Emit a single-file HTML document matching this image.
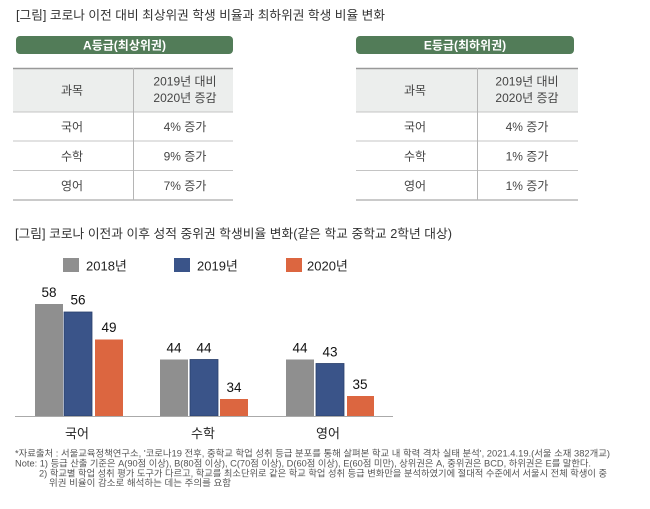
<!DOCTYPE html>
<html><head><meta charset="utf-8"><style>
html,body{margin:0;padding:0;background:#fff;}
svg{display:block;}
text{font-family:"Liberation Sans","Noto Sans CJK KR",sans-serif;}
</style></head><body>
<svg width="650" height="509" viewBox="0 0 650 509" xmlns="http://www.w3.org/2000/svg">
<rect width="650" height="509" fill="#fff"/>
<text x="16" y="19.5" font-size="12.5" fill="#333" textLength="369" lengthAdjust="spacingAndGlyphs">[그림] 코로나 이전 대비 최상위권 학생 비율과 최하위권 학생 비율 변화</text>

<!-- Left table -->
<rect x="16" y="36" width="217" height="18" rx="4" fill="#527c58"/>
<text x="124.5" y="49.5" font-size="12" font-weight="bold" fill="#fff" text-anchor="middle">A등급(최상위권)</text>
<rect x="13" y="68" width="220" height="44" fill="#eceeed"/>
<line x1="13" y1="68.5" x2="233" y2="68.5" stroke="#999" stroke-width="1.5"/>
<line x1="13" y1="112" x2="233" y2="112" stroke="#c4c4c4" stroke-width="1"/>
<line x1="13" y1="141" x2="233" y2="141" stroke="#c4c4c4" stroke-width="1"/>
<line x1="13" y1="170.5" x2="233" y2="170.5" stroke="#c4c4c4" stroke-width="1"/>
<line x1="13" y1="200" x2="233" y2="200" stroke="#aaa" stroke-width="1.2"/>
<line x1="133.5" y1="68" x2="133.5" y2="200" stroke="#b5b5b5" stroke-width="1"/>
<g font-size="12" fill="#444" text-anchor="middle">
<text x="72" y="94.5">과목</text>
<text x="185" y="85.5">2019년 대비</text>
<text x="185" y="102">2020년 증감</text>
<text x="72" y="131">국어</text><text x="185" y="131">4% 증가</text>
<text x="72" y="160.5">수학</text><text x="185" y="160.5">9% 증가</text>
<text x="72" y="190">영어</text><text x="185" y="190">7% 증가</text>
</g>

<!-- Right table -->
<rect x="356" y="36" width="218" height="18" rx="4" fill="#527c58"/>
<text x="465" y="49.5" font-size="12" font-weight="bold" fill="#fff" text-anchor="middle">E등급(최하위권)</text>
<rect x="356" y="68" width="222" height="44" fill="#eceeed"/>
<line x1="356" y1="68.5" x2="578" y2="68.5" stroke="#999" stroke-width="1.5"/>
<line x1="356" y1="112" x2="578" y2="112" stroke="#c4c4c4" stroke-width="1"/>
<line x1="356" y1="141" x2="578" y2="141" stroke="#c4c4c4" stroke-width="1"/>
<line x1="356" y1="170.5" x2="578" y2="170.5" stroke="#c4c4c4" stroke-width="1"/>
<line x1="356" y1="200" x2="578" y2="200" stroke="#aaa" stroke-width="1.2"/>
<line x1="477.5" y1="68" x2="477.5" y2="200" stroke="#b5b5b5" stroke-width="1"/>
<g font-size="12" fill="#444" text-anchor="middle">
<text x="415" y="94.5">과목</text>
<text x="527" y="85.5">2019년 대비</text>
<text x="527" y="102">2020년 증감</text>
<text x="415" y="131">국어</text><text x="527" y="131">4% 증가</text>
<text x="415" y="160.5">수학</text><text x="527" y="160.5">1% 증가</text>
<text x="415" y="190">영어</text><text x="527" y="190">1% 증가</text>
</g>

<!-- Chart title -->
<text x="15" y="238" font-size="12.5" fill="#333" textLength="437" lengthAdjust="spacingAndGlyphs">[그림] 코로나 이전과 이후 성적 중위권 학생비율 변화(같은 학교 중학교 2학년 대상)</text>

<!-- Legend -->
<rect x="63" y="258" width="16" height="14" fill="#8f8f8f"/>
<text x="86" y="267" font-size="13" fill="#222" dominant-baseline="middle">2018년</text>
<rect x="174" y="258" width="16" height="14" fill="#3a5489"/>
<text x="197" y="267" font-size="13" fill="#222" dominant-baseline="middle">2019년</text>
<rect x="286" y="258" width="16" height="14" fill="#dc6640"/>
<text x="307" y="267" font-size="13" fill="#222" dominant-baseline="middle">2020년</text>

<!-- Bars -->
<g>
<rect x="35" y="304" width="28" height="112" fill="#8f8f8f"/>
<rect x="64" y="312" width="28" height="104" fill="#3a5489" stroke="#2a3f6c" stroke-width="0.8"/>
<rect x="95" y="339.5" width="28" height="76.5" fill="#dc6640"/>

<rect x="160" y="359.5" width="28" height="56.5" fill="#8f8f8f"/>
<rect x="190" y="359.5" width="28" height="56.5" fill="#3a5489" stroke="#2a3f6c" stroke-width="0.8"/>
<rect x="220" y="399" width="28" height="17" fill="#dc6640"/>

<rect x="286" y="359.5" width="28" height="56.5" fill="#8f8f8f"/>
<rect x="316" y="363.5" width="28" height="52.5" fill="#3a5489" stroke="#2a3f6c" stroke-width="0.8"/>
<rect x="347" y="396" width="27" height="20" fill="#dc6640"/>
</g>
<line x1="15" y1="416.5" x2="393" y2="416.5" stroke="#aaa" stroke-width="1"/>

<g font-size="13.5" fill="#111" text-anchor="middle">
<text x="49" y="297">58</text>
<text x="78" y="304.5">56</text>
<text x="109" y="332">49</text>
<text x="174" y="352.5">44</text>
<text x="204" y="352.5">44</text>
<text x="234" y="392">34</text>
<text x="300" y="352.5">44</text>
<text x="330" y="356.5">43</text>
<text x="360" y="389">35</text>
</g>
<g font-size="13" fill="#222" text-anchor="middle">
<text x="77" y="438">국어</text>
<text x="203" y="438">수학</text>
<text x="328" y="438">영어</text>
</g>

<!-- Footnotes -->
<g font-size="9" fill="#555">
<text x="15" y="456.5" textLength="595" lengthAdjust="spacingAndGlyphs">*자료출처 : 서울교육정책연구소, '코로나19 전후, 중학교 학업 성취 등급 분포를 통해 살펴본 학교 내 학력 격차 실태 분석', 2021.4.19.(서울 소재 382개교)</text>
<text x="15" y="466.5" textLength="576" lengthAdjust="spacingAndGlyphs">Note: 1) 등급 산출 기준은 A(90점 이상), B(80점 이상), C(70점 이상), D(60점 이상), E(60점 미만), 상위권은 A, 중위권은 BCD, 하위권은 E를 말한다.</text>
<text x="39" y="476.5" textLength="568" lengthAdjust="spacingAndGlyphs">2) 학교별 학업 성취 평가 도구가 다르고, 학교를 최소단위로 같은 학교 학업 성취 등급 변화만을 분석하였기에 절대적 수준에서 서울시 전체 학생이 중</text>
<text x="49" y="486" textLength="182" lengthAdjust="spacingAndGlyphs">위권 비율이 감소로 해석하는 데는 주의를 요함</text>
</g>
</svg>
</body></html>
